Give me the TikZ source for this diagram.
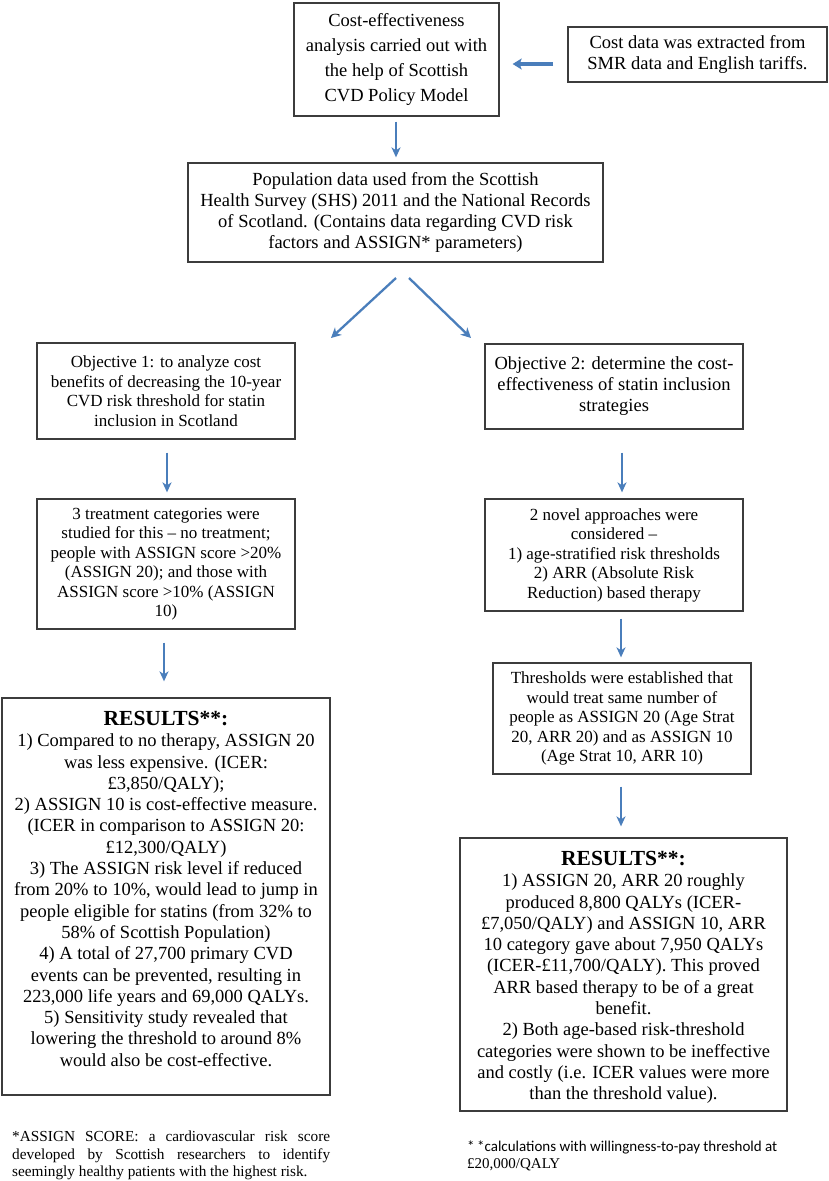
\documentclass[tikz,border=0pt]{standalone}
\usepackage{fontspec}
\setmainfont{Liberation Serif}
\newfontfamily\calib{Carlito}
\usetikzlibrary{arrows.meta}
\definecolor{arrblue}{RGB}{74,126,187}
\definecolor{boxline}{RGB}{60,60,60}
\newcommand\fntTop{\fontsize{18.5}{21}\selectfont}
\newcommand\fntTopWide{\fontsize{18.5}{24.7}\selectfont}
\newcommand\fntSmall{\fontsize{17}{19.5}\selectfont}
\newcommand\fntRes{\fontsize{18.5}{21.3}\selectfont}
\newcommand\fntTitle{\fontsize{21.5}{21.3}\selectfont\bfseries}
\begin{document}
\begin{tikzpicture}[x=1pt,y=-1pt,
  box/.style={draw=boxline, line width=1.3pt, rectangle, inner sep=0pt, align=center},
  txt/.style={inner sep=0pt, align=center},
  arr/.style={draw=arrblue, line width=1.8pt, -{Stealth[length=10pt,width=9pt,inset=3pt]}},
  diag/.style={draw=arrblue, line width=2.3pt, -{Stealth[length=10pt,width=10pt,inset=3pt]}},
  thick arr/.style={draw=arrblue, line width=3.3pt, -{Stealth[length=9pt,width=11pt,inset=2pt]}}]
\useasboundingbox (0,0) rectangle (829,1181);
\fill[white] (0,0) rectangle (829,1181);

% top boxes
\node[box, minimum width=205pt, minimum height=113pt, font=\fntTopWide] (cea) at (396.5,59.5)
  {Cost-effectiveness\\analysis carried out with\\the help of Scottish\\CVD Policy Model};
\node[box, minimum width=259pt, minimum height=55pt, font=\fntTop] (cost) at (697.5,54.5)
  {Cost data was extracted from\\SMR data and English tariffs.};
\node[box, minimum width=415pt, minimum height=99pt, font=\fntTop] (pop) at (395.5,212.5)
  {Population data used from the Scottish\\Health Survey (SHS) 2011 and the National Records\\of Scotland. (Contains data regarding CVD risk\\factors and ASSIGN* parameters)};

% objectives
\node[box, minimum width=258pt, minimum height=96pt, font=\fntSmall] (obj1) at (166,391)
  {Objective 1: to analyze cost\\benefits of decreasing the 10-year\\CVD risk threshold for statin\\inclusion in Scotland};
\node[box, minimum width=258pt, minimum height=85pt, font=\fntTop] (obj2) at (614,386.5)
  {Objective 2: determine the cost-\\effectiveness of statin inclusion\\strategies};

% second row
\node[box, minimum width=258pt, minimum height=130pt, font=\fntSmall] (treat) at (166,564)
  {3 treatment categories were\\studied for this – no treatment;\\people with ASSIGN score >20\%\\(ASSIGN 20); and those with\\ASSIGN score >10\% (ASSIGN\\10)};
\node[box, minimum width=258pt, minimum height=112pt, font=\fntSmall] (novel) at (614,555)
  {2 novel approaches were\\considered –\\1) age-stratified risk thresholds\\2) ARR (Absolute Risk\\Reduction) based therapy};
\node[box, minimum width=258pt, minimum height=111pt, font=\fntSmall] (thr) at (622,718.5)
  {Thresholds were established that\\would treat same number of\\people as ASSIGN 20 (Age Strat\\20, ARR 20) and as ASSIGN 10\\(Age Strat 10, ARR 10)};

% results
\node[box, minimum width=328pt, minimum height=397pt] (res1) at (166,896.5) {};
\node[txt, anchor=north, font=\fntRes] (res1t) at (166,711)
  {{\fntTitle RESULTS**:}\\
   1) Compared to no therapy, ASSIGN 20\\
   was less expensive. (ICER:\\
   £3,850/QALY);\\
   2) ASSIGN 10 is cost-effective measure.\\
   (ICER in comparison to ASSIGN 20:\\
   £12,300/QALY)\\
   3) The ASSIGN risk level if reduced\\
   from 20\% to 10\%, would lead to jump in\\
   people eligible for statins (from 32\% to\\
   58\% of Scottish Population)\\
   4) A total of 27,700 primary CVD\\
   events can be prevented, resulting in\\
   223,000 life years and 69,000 QALYs.\\
   5) Sensitivity study revealed that\\
   lowering the threshold to around 8\%\\
   would also be cost-effective.};
\node[box, minimum width=327pt, minimum height=273pt] (res2) at (623.5,974.5) {};
\node[txt, anchor=north, font=\fntRes] (res2t) at (623.5,851)
  {{\fntTitle RESULTS**:}\\
   1) ASSIGN 20, ARR 20 roughly\\
   produced 8,800 QALYs (ICER-\\
   £7,050/QALY) and ASSIGN 10, ARR\\
   10 category gave about 7,950 QALYs\\
   (ICER-£11,700/QALY). This proved\\
   ARR based therapy to be of a great\\
   benefit.\\
   2) Both age-based risk-threshold\\
   categories were shown to be ineffective\\
   and costly (i.e. ICER values were more\\
   than the threshold value).};

% footnotes
\node[inner sep=0pt, anchor=north west, text width=318pt, align=justify,
      font=\fontsize{15.3}{17.5}\selectfont] (fn1) at (12,1131)
  {*ASSIGN SCORE: a cardiovascular risk score\linebreak
   developed by Scottish researchers to identify\linebreak
   seemingly healthy patients with the highest risk.};
\node[inner sep=0pt, anchor=north west, align=left,
      font=\fontsize{15}{17}\selectfont] (fn2) at (467,1141)
  {{\calib *\,*calculations with willingness-to-pay threshold at}\\£20,000/QALY};

% connectors
\coordinate (hs) at (553,64);
\draw[thick arr, shorten >=13pt] (hs) -- (cea.east |- hs);
\draw[arr, shorten <=5pt, shorten >=5pt] ([xshift=-0.5pt]cea.south) -- ([xshift=-0.5pt]cea.south |- pop.north);
\coordinate (dlS) at (396,278);
\coordinate (dlE) at (331,338);
\coordinate (drS) at (409,278);
\coordinate (drE) at (471,338);
\draw[diag] (dlS) -- (dlE);
\draw[diag] (drS) -- (drE);
\draw[arr, shorten <=13pt, shorten >=6pt] ([xshift=1pt]obj1.south) -- ([xshift=1pt]treat.north);
\draw[arr, shorten <=23pt, shorten >=6pt] ([xshift=8pt]obj2.south) -- ([xshift=8pt]novel.north);
\draw[arr, shorten <=13pt, shorten >=16pt] ([xshift=-2pt]treat.south) -- ([xshift=-2pt]res1.north);
\draw[arr, shorten <=7pt, shorten >=5pt] ([xshift=7pt]novel.south) -- ([xshift=7pt]novel.south |- thr.north);
\draw[arr, shorten <=12pt, shorten >=11pt] ([xshift=-1pt]thr.south) -- ([xshift=-1pt]thr.south |- res2.north);
\end{tikzpicture}
\end{document}
